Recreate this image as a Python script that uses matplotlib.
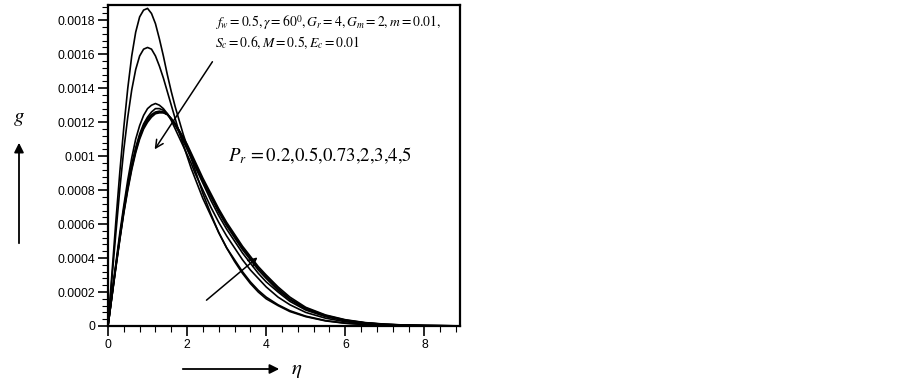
import matplotlib
matplotlib.use("Agg")
import matplotlib.pyplot as plt
from matplotlib.patches import FancyArrowPatch
from matplotlib.ticker import MultipleLocator, FuncFormatter

plt.rcParams['font.family'] = ['Liberation Sans', 'DejaVu Sans']
plt.rcParams['mathtext.fontset'] = 'stix'

# eta values the curves were read at
eta = [0, 0.1, 0.2, 0.3, 0.4, 0.5, 0.6, 0.7, 0.8, 0.9, 1.0, 1.1, 1.2, 1.3, 1.4,
       1.5, 1.6, 1.7, 1.8, 1.9, 2.0, 2.1, 2.2, 2.3, 2.4, 2.6, 2.8, 3.0, 3.2, 3.4,
       3.6, 3.8, 4.0, 4.3, 4.6, 5.0, 5.5, 6.0, 6.5, 7.0, 7.5, 8.0, 8.9]

pr_values = [0.2, 0.5, 0.73, 2, 3, 4, 5]

g_pr02 = [0, 0.00031, 0.00062, 0.00091, 0.00117, 0.00140, 0.00159, 0.00173, 0.00182,
          0.00186, 0.00187, 0.00184, 0.00178, 0.00169, 0.00159, 0.00148, 0.00138,
          0.00129, 0.00121, 0.00113, 0.00106, 0.00099, 0.00092, 0.00085, 0.00078,
          0.00066, 0.00055, 0.00046, 0.00038, 0.00031, 0.00025, 0.0002, 0.00016,
          0.00012, 0.000085, 0.000055, 0.00003, 0.000016, 0.0000085, 0.0000043,
          0.0000021, 0.000001, 0.0000002]
g_pr05 = [0, 0.00028, 0.00055, 0.00081, 0.00104, 0.00123, 0.00139, 0.00151, 0.00159,
          0.00163, 0.00164, 0.00163, 0.00159, 0.00153, 0.00146, 0.00138, 0.00130,
          0.00122, 0.00114, 0.00107, 0.00100, 0.00093, 0.00087, 0.00081, 0.00075,
          0.00065, 0.00055, 0.00046, 0.00039, 0.00032, 0.00026, 0.00021, 0.00017,
          0.000125, 0.00009, 0.000058, 0.000032, 0.000017, 0.000009, 0.0000046,
          0.0000023, 0.0000011, 0.0000003]
g_pr073 = [0, 0.00019, 0.00037, 0.00055, 0.00071, 0.00086, 0.00099, 0.00110, 0.00118,
           0.00124, 0.00128, 0.00130, 0.00131, 0.00130, 0.00128, 0.00125, 0.00121,
           0.00116, 0.00111, 0.00106, 0.00101, 0.00096, 0.00090, 0.00085, 0.00080,
           0.00070, 0.00061, 0.00053, 0.00046, 0.00039, 0.00033, 0.00028, 0.00023,
           0.00017, 0.000125, 0.00008, 0.000046, 0.000025, 0.000014, 0.0000072,
           0.0000037, 0.0000019, 0.0000005]
g_pr2 = [0, 0.00018, 0.00036, 0.00053, 0.00069, 0.00083, 0.00095, 0.00105, 0.00113,
         0.00119, 0.00123, 0.00126, 0.00128, 0.00128, 0.00127, 0.00125, 0.00122,
         0.00118, 0.00114, 0.00109, 0.00104, 0.00099, 0.00094, 0.00089, 0.00084,
         0.00074, 0.00065, 0.00057, 0.0005, 0.00043, 0.00037, 0.00031, 0.00026,
         0.0002, 0.000145, 0.000094, 0.000055, 0.000031, 0.000017, 0.000009,
         0.0000047, 0.0000024, 0.0000006]
g_pr3 = [0, 0.000178, 0.000355, 0.00052, 0.00068, 0.00082, 0.00094, 0.00104, 0.00112,
         0.00118, 0.00122, 0.001245, 0.00126, 0.001265, 0.00126, 0.001245, 0.00122,
         0.00119, 0.00115, 0.0011, 0.00105, 0.001, 0.00095, 0.0009, 0.00085,
         0.00076, 0.00067, 0.00059, 0.00052, 0.00045, 0.00039, 0.00033, 0.00028,
         0.00021, 0.000155, 0.0001, 0.000059, 0.000033, 0.000018, 0.0000095,
         0.000005, 0.0000026, 0.0000006]
g_pr4 = [0, 0.000176, 0.00035, 0.000515, 0.000672, 0.00081, 0.00093, 0.00103, 0.00111,
         0.00117, 0.00121, 0.00124, 0.001255, 0.00126, 0.001258, 0.001245, 0.00122,
         0.00119, 0.00115, 0.00111, 0.00106, 0.00101, 0.00096, 0.00091, 0.00086,
         0.00077, 0.00068, 0.0006, 0.00053, 0.00046, 0.0004, 0.00034, 0.00029,
         0.00022, 0.00016, 0.000105, 0.000062, 0.000035, 0.000019, 0.00001,
         0.0000054, 0.0000028, 0.0000007]
g_pr5 = [0, 0.000174, 0.000345, 0.00051, 0.000665, 0.0008, 0.00092, 0.00102, 0.0011,
         0.00116, 0.0012, 0.00123, 0.00125, 0.001255, 0.001255, 0.001245, 0.00122,
         0.00119, 0.00115, 0.00111, 0.00107, 0.00102, 0.00097, 0.00092, 0.00087,
         0.00078, 0.00069, 0.00061, 0.00054, 0.00047, 0.00041, 0.00035, 0.0003,
         0.00023, 0.00017, 0.00011, 0.000065, 0.000037, 0.00002, 0.000011,
         0.0000057, 0.000003, 0.0000008]

curves = [g_pr02, g_pr05, g_pr073, g_pr2, g_pr3, g_pr4, g_pr5]

W, H = 903, 381
fig = plt.figure(figsize=(W / 100, H / 100), dpi=100)
ax = fig.add_axes([108 / W, 1 - 326 / H, (460 - 108) / W, (326 - 5) / H])

for g in curves:
    ax.plot(eta, g, color='black', lw=1.2)

ax.set_xlim(0, 8.9)
ax.set_ylim(0, 0.00189)
ax.xaxis.set_major_locator(MultipleLocator(2))
ax.xaxis.set_minor_locator(MultipleLocator(0.4))
ax.yaxis.set_major_locator(MultipleLocator(0.0002))
ax.yaxis.set_minor_locator(MultipleLocator(0.00004))
ax.yaxis.set_major_formatter(FuncFormatter(lambda v, p: '0' if abs(v) < 1e-12 else f'{v:g}'))
ax.xaxis.set_major_formatter(FuncFormatter(lambda v, p: f'{v:g}'))
ax.tick_params(which='major', direction='out', length=7, width=1.2, labelsize=8.8, pad=2)
ax.tick_params(which='minor', direction='out', length=4, width=0.8)
for s in ax.spines.values():
    s.set_linewidth(1.6)

# parameter text and arrows inside the plot
ax.text(0.304, 0.944, r'$f_w=0.5,\gamma=60^0,G_r=4,G_m=2,m=0.01,$',
        transform=ax.transAxes, fontsize=9.8, va='center')
ax.text(0.304, 0.882, r'$S_c=0.6,M=0.5,E_c=0.01$',
        transform=ax.transAxes, fontsize=9.8, va='center')
ax.text(0.341, 0.53, r'$P_r\,=0.2{,}0.5{,}0.73{,}2{,}3{,}4{,}5$',
        transform=ax.transAxes, fontsize=13.5, va='center')

ax.annotate('', xy=(1.18, 0.00104), xytext=(2.64, 0.001556),
            arrowprops=dict(arrowstyle='->', color='black', lw=1.1,
                            mutation_scale=14, shrinkA=0, shrinkB=0))
ax.annotate('', xy=(3.78, 0.000404), xytext=(2.49, 0.000152),
            arrowprops=dict(arrowstyle='->', color='black', lw=1.1,
                            mutation_scale=14, shrinkA=0, shrinkB=0))

# axis labels with arrows outside the frame
fig.text(19 / W, 1 - 118 / H, r'$g$', fontsize=15, ha='center', va='center')
fig.add_artist(FancyArrowPatch(
    (19 / W, 1 - 246 / H), (19 / W, 1 - 140 / H), transform=fig.transFigure,
    arrowstyle='-|>', mutation_scale=14, color='black', lw=1.3))
fig.text(297 / W, 1 - 370 / H, r'$\eta$', fontsize=15, ha='center', va='center')
fig.add_artist(FancyArrowPatch(
    (180 / W, 1 - 369 / H), (282 / W, 1 - 369 / H), transform=fig.transFigure,
    arrowstyle='-|>', mutation_scale=14, color='black', lw=1.3))

fig.savefig('out.png', dpi=100)
